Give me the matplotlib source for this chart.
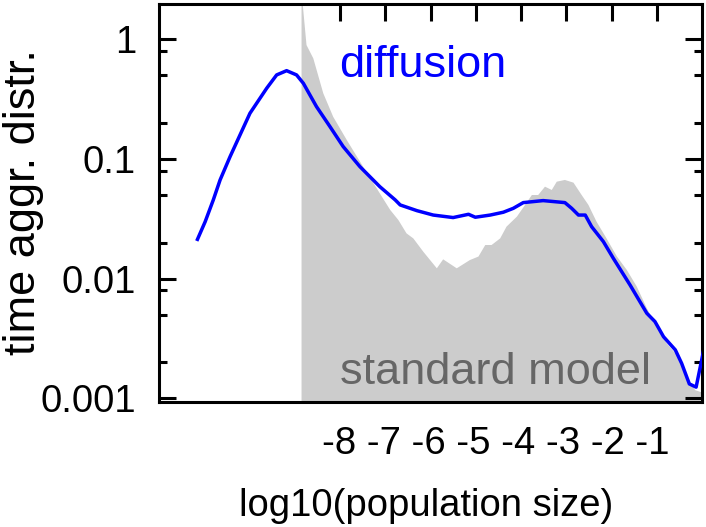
import matplotlib
matplotlib.use("Agg")
import matplotlib.pyplot as plt
from matplotlib.ticker import LogLocator, NullFormatter, FixedLocator, FixedFormatter

plt.rcParams['font.family'] = ['Liberation Sans', 'DejaVu Sans']

# ---- data ----
diff_x = [-11.15, -10.98, -10.80, -10.65, -10.43, -9.99, -9.62, -9.40, -9.18, -8.96,
          -8.81, -8.52, -8.22, -7.93, -7.56, -7.12, -6.78, -6.67, -6.30, -5.94,
          -5.50, -5.16, -5.01, -4.68, -4.39, -4.17, -3.95, -3.51, -3.03, -2.88,
          -2.73, -2.58, -2.44, -2.18, -1.96, -1.59, -1.22, -1.04, -0.85, -0.59,
          -0.45, -0.28, -0.13, 0.03]
diff_y = [0.0213, 0.0299, 0.0455, 0.0668, 0.1045, 0.241, 0.390, 0.504, 0.547, 0.504,
          0.429, 0.274, 0.186, 0.127, 0.0863, 0.0587, 0.0455, 0.0413, 0.0370, 0.0340,
          0.0324, 0.0345, 0.0326, 0.0340, 0.0359, 0.0387, 0.0432, 0.0449, 0.0432, 0.0387,
          0.0340, 0.0340, 0.0272, 0.0204, 0.0148, 0.00885, 0.00514, 0.00438, 0.00327, 0.00254,
          0.00196, 0.00132, 0.00124, 0.00245]

std_x = [-8.85, -8.74, -8.59, -8.37, -8.15, -7.85, -7.49, -7.12, -6.89, -6.71,
         -6.53, -6.38, -6.16, -5.86, -5.72, -5.42, -5.13, -4.94, -4.79, -4.65,
         -4.46, -4.32, -4.09, -3.91, -3.76, -3.62, -3.47, -3.32, -3.21, -3.03,
         -2.84, -2.66, -2.51, -2.33, -2.11, -1.88, -1.66, -1.44, -1.22, -1.00,
         -0.78, -0.56, -0.41, -0.26, -0.15, 0.0]
std_y = [2.5, 0.895, 0.693, 0.354, 0.225, 0.144, 0.0863, 0.0516, 0.0375, 0.0309,
         0.0239, 0.0217, 0.0168, 0.0122, 0.0145, 0.0122, 0.0143, 0.0153, 0.0191, 0.0191,
         0.0217, 0.0272, 0.0330, 0.0413, 0.0500, 0.0500, 0.0587, 0.0551, 0.0646, 0.0668,
         0.0634, 0.0500, 0.0413, 0.0299, 0.0217, 0.0153, 0.0118, 0.00857, 0.00566, 0.00397,
         0.00288, 0.00231, 0.00173, 0.00134, 0.00117, 0.00112]

y_ticks = [1, 0.1, 0.01, 0.001]
y_ticklabels = ["1", "0.1", "0.01", "0.001"]
x_ticks = [-8, -7, -6, -5, -4, -3, -2, -1]
x_tick_text = "-8 -7 -6 -5 -4 -3 -2 -1"

W, H = 706, 527
fig = plt.figure(figsize=(W / 100, H / 100), dpi=100)
L, R, T, B = 159, 702, 4, 401.7
ax = fig.add_axes([L / W, 1 - B / H, (R - L) / W, (B - T) / H])

ax.fill_between(std_x, std_y, 1e-5, color='#cccccc', linewidth=0, zorder=1)
ax.plot(diff_x, diff_y, color='#0000ff', linewidth=2.5, zorder=3)

ax.set_yscale('log')
ax.set_xlim(-12.0, 0.0)
ax.set_ylim(0.000937, 1.973)

ax.yaxis.set_major_locator(FixedLocator(y_ticks))
ax.yaxis.set_major_formatter(FixedFormatter(y_ticklabels))
ax.yaxis.set_minor_locator(LogLocator(base=10, subs=(2, 5, 8)))
ax.yaxis.set_minor_formatter(NullFormatter())
ax.tick_params(axis='y', which='major', direction='in', left=True, right=True,
               length=12, width=2.2, labelsize=27.5, pad=16.5)
ax.tick_params(axis='y', which='minor', direction='in', left=True, right=True,
               length=5.8, width=2.2)

ax.set_xticks(x_ticks)
ax.tick_params(axis='x', which='major', direction='in', top=True, bottom=False,
               labelbottom=False, labeltop=False, length=12, width=2.2)
ax.tick_params(axis='x', which='minor', top=False, bottom=False)

for s in ax.spines.values():
    s.set_linewidth(2.2)

ax.text(-8.03, 0.487, "diffusion", color='#0000ff', fontsize=32.5,
        ha='left', va='baseline', zorder=4)
ax.text(-8.0, 0.00132, "standard model", color='#666666', fontsize=32.5,
        ha='left', va='baseline', zorder=4)

fig.text(321.5 / W, 1 - 454 / H, x_tick_text, fontsize=27.5, ha='left', va='baseline')
fig.text(426 / W, 1 - 516 / H, "log10(population size)", fontsize=27.5,
         ha='center', va='baseline')
fig.text(24 / W, 1 - 202 / H, "time aggr. distr.", fontsize=32.5, rotation=90,
         ha='center', va='center')

fig.savefig("out.png", dpi=100)
